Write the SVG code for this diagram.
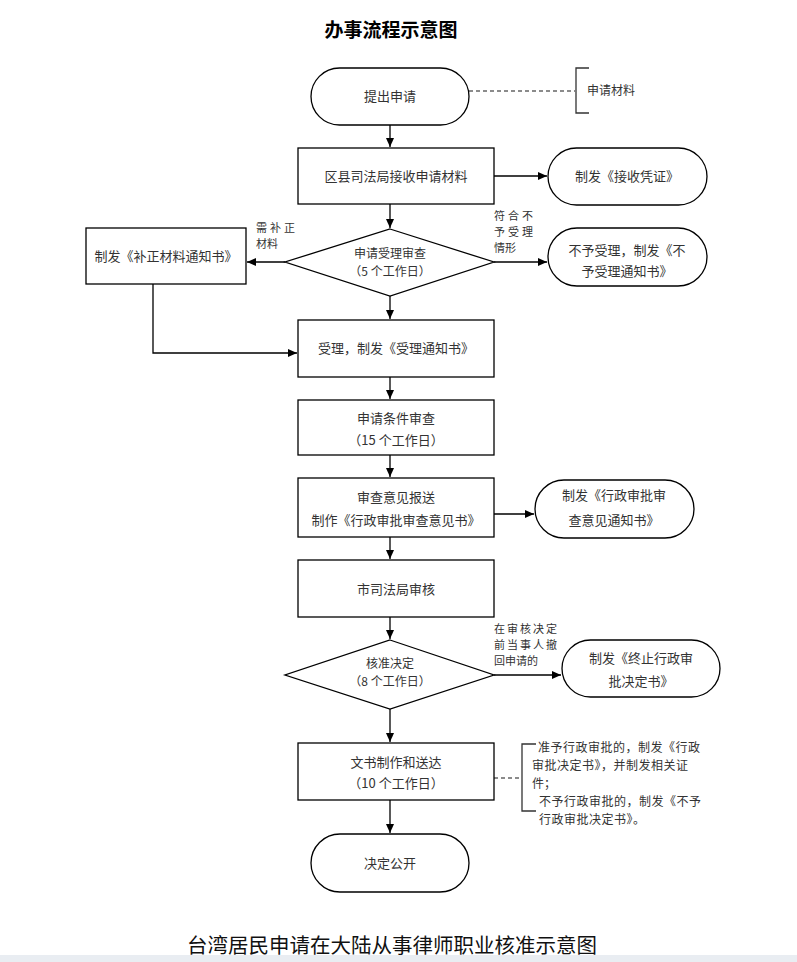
<svg xmlns="http://www.w3.org/2000/svg" width="797" height="962" viewBox="0 0 797 962">
<defs>
<marker id="ah" markerWidth="10" markerHeight="10" refX="9" refY="5" orient="auto" markerUnits="userSpaceOnUse">
<path d="M0,1 L9,5 L0,9 Z" fill="#000"/>
</marker>
<style>
.b{fill:#fff;stroke:#000;stroke-width:1.3}
.t{font-family:"Noto Sans CJK SC","Liberation Serif",serif;font-size:13px;fill:#333;text-anchor:middle}
.s{font-family:"Noto Sans CJK SC","Liberation Serif",serif;font-size:12px;fill:#333;text-anchor:middle}
.l{font-family:"Noto Sans CJK SC","Liberation Serif",serif;font-size:12px;fill:#333}
.m{font-family:"Noto Sans CJK SC","Liberation Serif",serif;font-size:11px;fill:#333}
.c{stroke:#000;stroke-width:1.3;fill:none}
.d{stroke:#666;stroke-width:1.3;fill:none;stroke-dasharray:4,3}
.br{stroke:#333;stroke-width:1.3;fill:none}
</style>
</defs>
<rect x="0" y="0" width="797" height="962" fill="#fff"/>
<rect x="0" y="955" width="797" height="7" fill="#e9edf2"/>
<text x="391" y="37" font-family="Noto Sans CJK SC, sans-serif" font-size="19" fill="#000" text-anchor="middle" font-weight="bold">办事流程示意图</text>

<g id="connectors">
<path class="c" d="M390,125 V147" marker-end="url(#ah)"/>
<path class="c" d="M494,176 H547" marker-end="url(#ah)"/>
<path class="c" d="M390,204 V228" marker-end="url(#ah)"/>
<path class="c" d="M285,262 H247" marker-end="url(#ah)"/>
<path class="c" d="M494,262 H547" marker-end="url(#ah)"/>
<path class="c" d="M390,296 V319" marker-end="url(#ah)"/>
<path class="c" d="M153,284 V353 H297" marker-end="url(#ah)"/>
<path class="c" d="M390,377 V399" marker-end="url(#ah)"/>
<path class="c" d="M390,455 V477" marker-end="url(#ah)"/>
<path class="c" d="M494,514 H534" marker-end="url(#ah)"/>
<path class="c" d="M390,537 V559" marker-end="url(#ah)"/>
<path class="c" d="M390,617 V639" marker-end="url(#ah)"/>
<path class="c" d="M494,675 H561" marker-end="url(#ah)"/>
<path class="c" d="M390,709 V742" marker-end="url(#ah)"/>
<path class="c" d="M390,800 V833" marker-end="url(#ah)"/>
<path class="d" d="M469,91 H575"/>
<path class="d" d="M494,778 H522"/>
</g>

<g id="start">
<rect class="b" x="311" y="68" width="158" height="57" rx="28.5"/>
<text class="t" x="390" y="101">提出申请</text>
</g>
<g id="materials">
<path class="br" d="M589,68 H576 V113 H589"/>
<text class="l" x="587" y="95">申请材料</text>
</g>
<g id="receive">
<rect class="b" x="298" y="148" width="196" height="56"/>
<text class="t" x="396" y="181">区县司法局接收申请材料</text>
</g>
<g id="receipt">
<rect class="b" x="548" y="148" width="159" height="57" rx="28.5"/>
<text class="t" x="627" y="181">制发《接收凭证》</text>
</g>
<g id="review">
<polygon class="b" points="390,229 494,262 390,296 285,262"/>
<text class="s" x="390" y="258">申请受理审查</text>
<text class="s" x="390" y="276">（5 个工作日）</text>
</g>
<g id="supplement">
<rect class="b" x="86" y="228" width="160" height="56"/>
<text class="t" x="166" y="261">制发《补正材料通知书》</text>
<text class="m" x="256" y="232" letter-spacing="3">需补正</text>
<text class="m" x="256" y="248">材料</text>
</g>
<g id="reject">
<rect class="b" x="548" y="228" width="159" height="58" rx="29"/>
<text class="t" x="627" y="255">不予受理，制发《不</text>
<text class="t" x="627" y="276">予受理通知书》</text>
<text class="m" x="494" y="220" letter-spacing="3">符合不</text>
<text class="m" x="494" y="236" letter-spacing="3">予受理</text>
<text class="m" x="494" y="252">情形</text>
</g>
<g id="accept">
<rect class="b" x="298" y="320" width="196" height="57"/>
<text class="t" x="396" y="353">受理，制发《受理通知书》</text>
</g>
<g id="condition">
<rect class="b" x="298" y="400" width="196" height="55"/>
<text class="t" x="396" y="423">申请条件审查</text>
<text class="t" x="396" y="445">（15 个工作日）</text>
</g>
<g id="opinion">
<rect class="b" x="298" y="478" width="196" height="59"/>
<text class="t" x="396" y="502">审查意见报送</text>
<text class="t" x="396" y="525">制作《行政审批审查意见书》</text>
</g>
<g id="opinion-notice">
<rect class="b" x="535" y="480" width="159" height="58" rx="29"/>
<text class="t" x="614" y="500">制发《行政审批审</text>
<text class="t" x="614" y="525">查意见通知书》</text>
</g>
<g id="city">
<rect class="b" x="298" y="560" width="196" height="57"/>
<text class="t" x="396" y="594">市司法局审核</text>
</g>
<g id="decision">
<polygon class="b" points="390,640 494,675 390,709 285,675"/>
<text class="s" x="390" y="668">核准决定</text>
<text class="s" x="390" y="686">（8 个工作日）</text>
<text class="m" x="494" y="633" letter-spacing="2">在审核决定</text>
<text class="m" x="494" y="649" letter-spacing="2">前当事人撤</text>
<text class="m" x="494" y="665">回申请的</text>
</g>
<g id="terminate">
<rect class="b" x="562" y="640" width="158" height="57" rx="28.5"/>
<text class="t" x="641" y="663">制发《终止行政审</text>
<text class="t" x="641" y="686">批决定书》</text>
</g>
<g id="deliver">
<rect class="b" x="298" y="743" width="196" height="57"/>
<text class="t" x="396" y="767">文书制作和送达</text>
<text class="t" x="396" y="788">（10 个工作日）</text>
</g>
<g id="deliver-note">
<path class="br" d="M536,744 H522 V811 H536"/>
<text class="l" x="538" y="752" letter-spacing="0.5">准予行政审批的，制发《行政</text>
<text class="l" x="532" y="770" letter-spacing="0.5">审批决定书》，并制发相关证</text>
<text class="l" x="532" y="788">件；</text>
<text class="l" x="539" y="806" letter-spacing="0.5">不予行政审批的，制发《不予</text>
<text class="l" x="539" y="824" letter-spacing="0.5">行政审批决定书》。</text>
</g>
<g id="publish">
<rect class="b" x="311" y="834" width="158" height="58" rx="29"/>
<text class="t" x="390" y="868">决定公开</text>
</g>
<text x="392" y="953" font-family="Noto Sans CJK SC, serif" font-size="20.5" fill="#111" text-anchor="middle">台湾居民申请在大陆从事律师职业核准示意图</text>
</svg>
